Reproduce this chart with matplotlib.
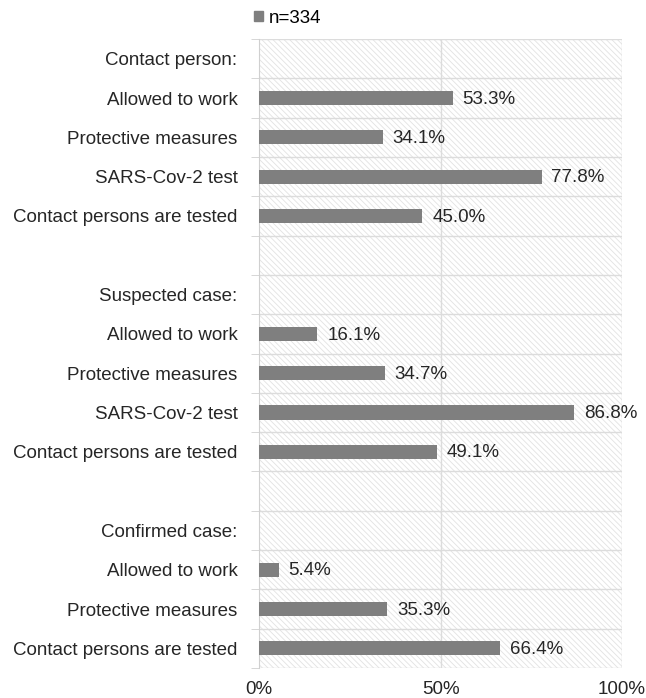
import numpy as np
import matplotlib.pyplot as plt
from matplotlib.patches import Patch

plt.rcParams['font.family'] = ['Liberation Sans', 'DejaVu Sans']
plt.rcParams['hatch.color'] = '#e2e2e2'
plt.rcParams['hatch.linewidth'] = 0.6

# rows from top to bottom; None = header / spacer row without a bar
labels = ['Contact person:', 'Allowed to work', 'Protective measures', 'SARS-Cov-2 test',
          'Contact persons are tested', '',
          'Suspected case:', 'Allowed to work', 'Protective measures', 'SARS-Cov-2 test',
          'Contact persons are tested', '',
          'Confirmed case:', 'Allowed to work', 'Protective measures',
          'Contact persons are tested']
values = [None, 53.3, 34.1, 77.8, 45.0, None,
          None, 16.1, 34.7, 86.8, 49.1, None,
          None, 5.4, 35.3, 66.4]

n = len(labels)
ypos = np.arange(n)
fs = 13.5

fig = plt.figure(figsize=(6.46, 6.98), dpi=100)
ax = fig.add_axes([0.401, 0.043, 0.562, 0.901])

ax.patch.set_facecolor('white')
ax.patch.set_hatch('\\\\\\\\\\\\')
ax.patch.set_edgecolor('#e2e2e2')

for y, v in zip(ypos, values):
    if v is None:
        continue
    ax.barh(y, v, height=0.36, color='#7f7f7f', zorder=3)
    ax.text(v + 2.7, y + 0.03, f'{v:.1f}%', va='center', ha='left', fontsize=fs,
            color='#262626', zorder=4)

ax.set_ylim(n - 0.5, -0.5)
ax.set_xlim(0, 100)

# grid lines between rows and at 50 %
for b in np.arange(-0.5, n, 1.0):
    ax.axhline(b, color='#dcdcdc', lw=1.0, zorder=1)
ax.axvline(50, color='#dcdcdc', lw=1.0, zorder=1)
ax.axvline(100, color='#dcdcdc', lw=1.0, zorder=1)

for s in ['top', 'right', 'bottom']:
    ax.spines[s].set_visible(False)
ax.spines['left'].set_color('#d0d0d0')

ax.set_yticks(ypos)
ax.set_yticklabels(labels, fontsize=fs, color='#262626')
ax.tick_params(axis='y', length=0, pad=15.5)
ax.set_yticks(np.arange(-0.5, n, 1.0), minor=True)
ax.tick_params(axis='y', which='minor', length=6, color='#d0d0d0')

ax.set_xticks([0, 50, 100])
ax.set_xticklabels(['0%', '50%', '100%'], fontsize=fs, color='#262626')
ax.tick_params(axis='x', length=0, pad=9.5)

ax.legend(handles=[Patch(color='#7f7f7f', label='n=334')], loc='lower left',
          bbox_to_anchor=(-0.04, 1.005), frameon=False, fontsize=fs,
          handlelength=0.5, handleheight=0.5, handletextpad=0.3, borderaxespad=0.1)

fig.savefig('out.png', dpi=100)
